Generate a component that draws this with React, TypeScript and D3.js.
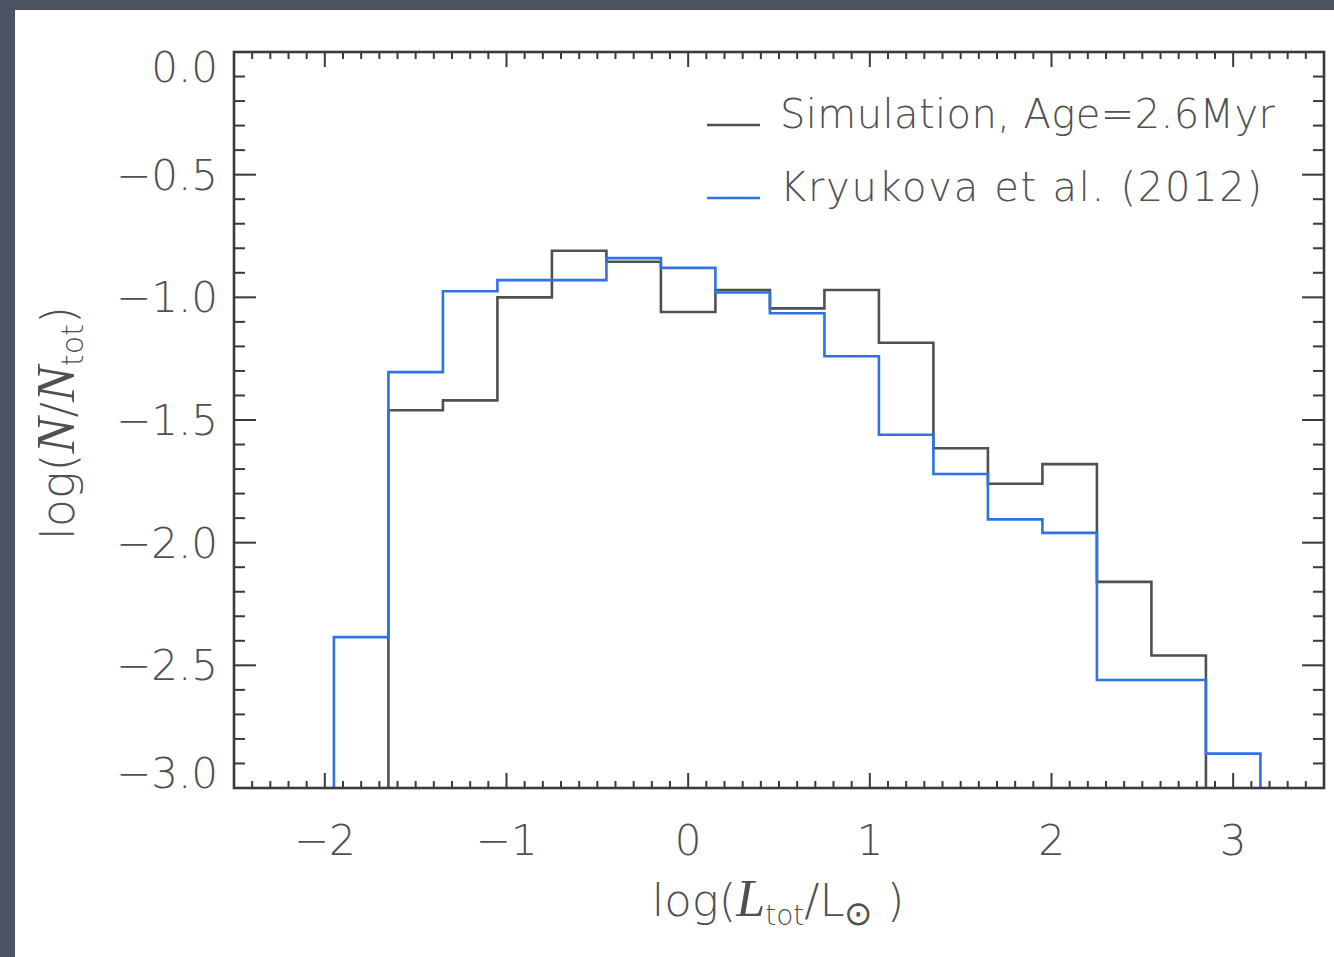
import { useRef, useEffect } from 'react';
import * as d3 from 'd3';

// bin centres of the luminosity histogram, log(Ltot/Lsun), width 0.3
const binCenters = [-1.8, -1.5, -1.2, -0.9, -0.6, -0.3, 0.0, 0.3, 0.6, 0.9, 1.2, 1.5, 1.8, 2.1, 2.4, 2.7, 3.0];
const binWidth = 0.3;

// log(N/Ntot) per bin, null = empty bin
const simulation = [null, -1.46, -1.42, -1.0, -0.81, -0.855, -1.06, -0.97, -1.045, -0.97, -1.185, -1.615, -1.76, -1.68, -2.16, -2.46, null];
const kryukova = [-2.385, -1.305, -0.975, -0.93, -0.93, -0.84, -0.88, -0.98, -1.065, -1.24, -1.56, -1.72, -1.905, -1.96, -2.56, -2.56, -2.86];

const xTicks = [-2, -1, 0, 1, 2, 3];
const yTicks = [0, -0.5, -1.0, -1.5, -2.0, -2.5, -3.0];
const legendLabels = ['Simulation, Age=2.6Myr', 'Kryukova et al. (2012)'];

const W = 1334;
const H = 957;

const App = () => {
  const ref = useRef(null);

  useEffect(() => {
    const svg = d3.select(ref.current);
    svg.selectAll('*').remove();

    const left = 234, right = 1324, top = 52, bottom = 788;
    const x = d3.scaleLinear().domain([-2.5, 3.5]).range([left, right]);
    const y = d3.scaleLinear().domain([-3, 0]).range([bottom, top]);

    const frameColor = '#3a3a3a';
    const textColor = '#505050';
    const font = "'DejaVu Sans', sans-serif";
    const serif = "'Liberation Serif', serif";
    const weight = 300;
    const grey = '#505050';
    const blue = '#2f72e2';

    // dark backdrop + white page
    svg.append('rect').attr('width', W).attr('height', H).attr('fill', '#4c5363');
    svg.append('rect').attr('x', 15).attr('y', 10).attr('width', W - 15).attr('height', H - 10).attr('fill', '#ffffff');

    // histograms as steps
    const stepPoints = (vals) => {
      const pts = [];
      const first = vals.findIndex(v => v !== null);
      let last = vals.length - 1;
      while (vals[last] === null) last--;
      pts.push([x(binCenters[first] - binWidth / 2), y(-3)]);
      for (let i = first; i <= last; i++) {
        const v = vals[i] === null ? -3 : vals[i];
        pts.push([x(binCenters[i] - binWidth / 2), y(v)]);
        pts.push([x(binCenters[i] + binWidth / 2), y(v)]);
      }
      pts.push([x(binCenters[last] + binWidth / 2), y(-3)]);
      return pts;
    };
    const line = d3.line();

    svg.append('path')
      .attr('d', line(stepPoints(simulation)))
      .attr('fill', 'none')
      .attr('stroke', grey)
      .attr('stroke-width', 2.6);

    svg.append('path')
      .attr('d', line(stepPoints(kryukova)))
      .attr('fill', 'none')
      .attr('stroke', blue)
      .attr('stroke-width', 2.6);

    // ticks (IDL style, inward, all four sides)
    const tk = svg.append('g').attr('stroke', frameColor).attr('stroke-width', 2);
    const xMinor = d3.range(-25, 36).map(d => d / 10);
    xMinor.forEach(v => {
      const major = Math.abs(v - Math.round(v)) < 1e-6;
      const len = major ? 15 : 7;
      tk.append('line').attr('x1', x(v)).attr('x2', x(v)).attr('y1', bottom).attr('y2', bottom - len);
      tk.append('line').attr('x1', x(v)).attr('x2', x(v)).attr('y1', top).attr('y2', top + len);
    });
    const yMinor = d3.range(-30, 1).map(d => d / 10);
    yMinor.forEach(v => {
      const major = Math.abs(v * 2 - Math.round(v * 2)) < 1e-6;
      const len = major ? 22 : 11;
      tk.append('line').attr('y1', y(v)).attr('y2', y(v)).attr('x1', left).attr('x2', left + len);
      tk.append('line').attr('y1', y(v)).attr('y2', y(v)).attr('x1', right).attr('x2', right - len);
    });

    svg.append('rect')
      .attr('x', left).attr('y', top)
      .attr('width', right - left).attr('height', bottom - top)
      .attr('fill', 'none')
      .attr('stroke', frameColor)
      .attr('stroke-width', 2.6);

    // tick labels
    const fmtY = v => (v < 0 ? '\u2212' : '') + Math.abs(v).toFixed(1);
    svg.append('g')
      .selectAll('text')
      .data(yTicks)
      .join('text')
      .attr('x', 218)
      .attr('y', (d, i) => y(d) + (i === 0 ? 15 : i === yTicks.length - 1 ? -15 : 0))
      .attr('dy', '0.36em')
      .attr('text-anchor', 'end')
      .attr('font-family', font)
      .attr('font-weight', weight)
      .attr('font-size', 42)
      .attr('fill', textColor)
      .text(fmtY);

    svg.append('g')
      .selectAll('text')
      .data(xTicks)
      .join('text')
      .attr('x', d => x(d))
      .attr('y', 855)
      .attr('text-anchor', 'middle')
      .attr('font-family', font)
      .attr('font-weight', weight)
      .attr('font-size', 42)
      .attr('fill', textColor)
      .text(d => (d < 0 ? '\u2212' : '') + Math.abs(d));

    // axis titles
    const xt = svg.append('text')
      .attr('x', 778).attr('y', 916)
      .attr('text-anchor', 'middle')
      .attr('font-family', font)
      .attr('font-weight', weight)
      .attr('font-size', 45)
      .attr('fill', textColor);
    xt.append('tspan').text('log(');
    xt.append('tspan').attr('font-family', serif).attr('font-weight', 400).attr('font-style', 'italic').attr('font-size', 52).text('L');
    xt.append('tspan').attr('font-size', 28).attr('dy', 9).text('tot');
    xt.append('tspan').attr('dy', -9).text('/L');
    xt.append('tspan').attr('font-size', 34).attr('dy', 9).text('\u2299');
    xt.append('tspan').attr('dy', -9).text(' )');

    const yt = svg.append('text')
      .attr('transform', 'translate(74,423) rotate(-90)')
      .attr('text-anchor', 'middle')
      .attr('font-family', font)
      .attr('font-weight', weight)
      .attr('font-size', 46)
      .attr('fill', textColor);
    yt.append('tspan').text('log(');
    yt.append('tspan').attr('font-family', serif).attr('font-weight', 400).attr('font-style', 'italic').attr('font-size', 54).text('N');
    yt.append('tspan').text('/');
    yt.append('tspan').attr('font-family', serif).attr('font-weight', 400).attr('font-style', 'italic').attr('font-size', 54).text('N');
    yt.append('tspan').attr('font-size', 30).attr('dy', 9).text('tot');
    yt.append('tspan').attr('dy', -9).text(')');

    // legend
    const lg = svg.append('g');
    const legendWidths = [495, 482];
    [grey, blue].forEach((c, i) => {
      const ly = 125 + i * 73;
      lg.append('line')
        .attr('x1', 707).attr('x2', 760)
        .attr('y1', ly).attr('y2', ly)
        .attr('stroke', c).attr('stroke-width', 2.6);
      lg.append('text')
        .attr('x', 780).attr('y', ly + 3)
        .attr('font-family', font)
        .attr('font-weight', weight)
        .attr('font-size', 40)
        .attr('fill', textColor)
        .attr('textLength', legendWidths[i])
        .attr('lengthAdjust', 'spacing')
        .text(legendLabels[i]);
    });
  }, []);

  return (
    <svg ref={ref} width={W} height={H} style={{ position: 'absolute', left: 0, top: 0 }} />
  );
};

export default App;
